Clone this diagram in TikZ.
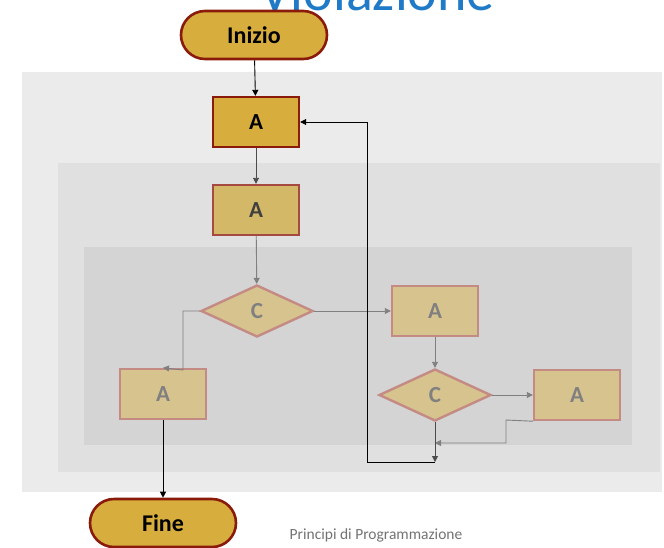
\documentclass[tikz,border=0pt]{standalone}
\usepackage{fontspec}
\setmainfont{Carlito}
\usetikzlibrary{shapes.geometric,arrows.meta}
\definecolor{gold}{HTML}{D7AE3E}
\definecolor{darkred}{HTML}{8A1A0A}
\definecolor{fadegold}{HTML}{D3B867}
\definecolor{fadered}{HTML}{A44A40}
\definecolor{paleg}{HTML}{D7C38D}
\definecolor{paler}{HTML}{C48A84}
\definecolor{titleblue}{HTML}{1F7AC8}
\tikzset{
  term/.style={draw=darkred,fill=gold,line width=2.6pt,rounded corners=24pt,minimum width=146pt,minimum height=48pt,inner sep=0pt,font=\fontsize{24}{26}\selectfont\bfseries},
  boxA/.style={draw=darkred,fill=gold,line width=2.4pt,minimum width=86pt,minimum height=50pt,inner sep=0pt,font=\fontsize{23}{25}\selectfont\bfseries},
  boxB/.style={boxA,draw=fadered,fill=fadegold,text=black!75},
  boxC/.style={boxA,draw=paler,fill=paleg,text=black!50},
  dia/.style={diamond,draw=paler,fill=paleg,line width=2.4pt,minimum width=112pt,minimum height=52pt,inner sep=0pt,text=black!50,font=\fontsize{23}{25}\selectfont\bfseries},
  tip/.style={-{Triangle[length=6pt,width=6pt]}},
  conK/.style={tip,draw=black,line width=0.9pt},
  conG/.style={tip,draw=black!50,line width=0.9pt},
  conD/.style={tip,draw=black!70,line width=0.9pt}
}
\begin{document}
\begin{tikzpicture}[x=1pt,y=-1pt]
\useasboundingbox (0,0) rectangle (664,547);
\fill[white] (0,0) rectangle (664,547);
% title (cut at the top edge, as in the reference)
\node[text=titleblue,font=\fontsize{56}{60}\selectfont,anchor=base] (title) at (377,10) {Violazione};
% background panels
\fill[black!8] (22,72) rectangle (662,492);
\fill[black!12] (58,163) rectangle (660,472);
\fill[black!17] (84,247) rectangle (632,445);
% nodes
\node[term] (ini) at (254,35) {Inizio};
\node[boxA] (a1) at (256,122) {A};
\node[boxB] (a2) at (256,210) {A};
\node[dia] (c1) at (257,311) {C};
\node[boxC] (a3) at (435,311) {A};
\node[dia] (c2) at (435,395) {C};
\node[boxC] (a4) at (577,395) {A};
\node[boxC] (a5) at (163,394) {A};
\node[term] (fine) at (163,523) {Fine};
\node[text=black!55,font=\fontsize{15.5}{17}\selectfont] (foot) at (376,535) {Principi di Programmazione};
\coordinate (j) at (435,462);
\coordinate (m) at (435,443);
% connectors
\draw[conK] (ini) -- (a1);
\draw[conD] (a1) -- (a2);
\draw[conG] (a2) -- (c1);
\draw[conG] (c1.west) -- (183,311) -- (183,370) -- (a5.north);
\draw[conG] (c1.east) -- (a3.west);
\draw[conG] (a3) -- (c2);
\draw[conG] (c2.east) -- (a4.west);
\draw[conG] (a4.south west) -- (506,420) -- (506,443) -- (m);
\draw[conD] (c2.south) -- (j);
\draw[conK] (j) -- (367,462) -- (367,122) -- (a1.east);
\draw[conK] (a5) -- (fine);
\end{tikzpicture}
\end{document}
